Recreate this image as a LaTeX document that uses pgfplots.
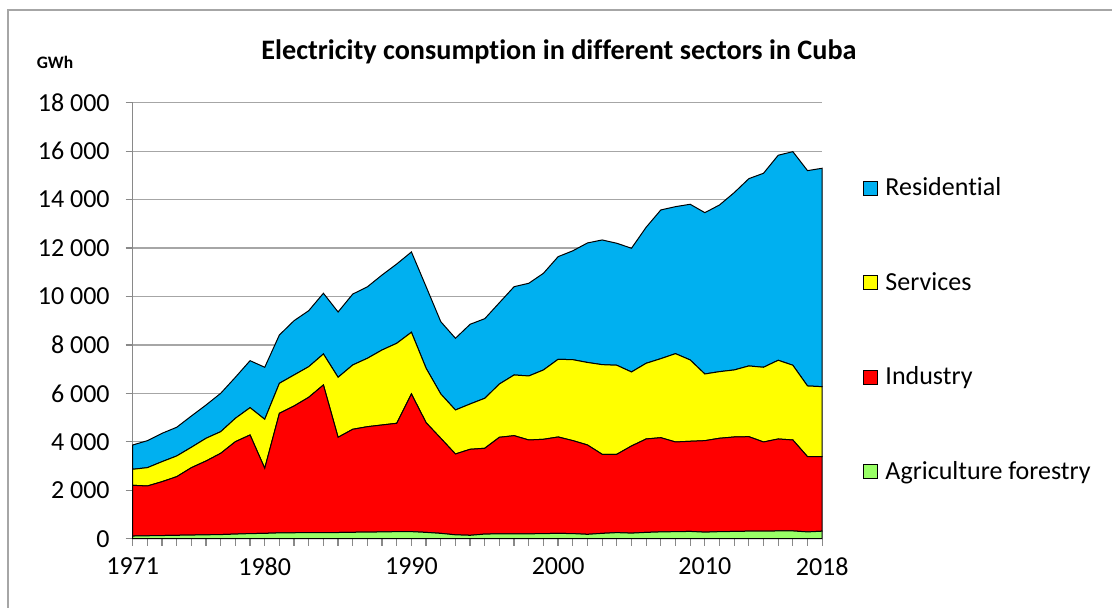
\documentclass[border=0pt]{standalone}
\usepackage{pgfplots}
\usepackage{pgfplotstable}
\usepackage{fontspec}
\setmainfont{Carlito}[Ligatures=NoCommon]
\pgfplotsset{compat=1.18}
\definecolor{rescol}{HTML}{00B0F0}
\definecolor{sercol}{HTML}{FFFF00}
\definecolor{indcol}{HTML}{FF0000}
\definecolor{agcol}{HTML}{99FF66}
\definecolor{gridcol}{HTML}{A6A6A6}
\definecolor{axcol}{HTML}{898989}
\pgfplotstableread{
year ag ind serv res
1971 110 2094 661 1004
1972 120 2056 756 1115
1973 130 2224 826 1171
1974 140 2420 855 1185
1975 150 2782 842 1292
1976 160 3048 938 1374
1977 170 3356 892 1585
1978 190 3815 966 1693
1979 210 4072 1127 1941
1980 220 2687 2023 2147
1981 240 4938 1238 1995
1982 245 5234 1280 2242
1983 250 5588 1264 2312
1984 255 6091 1280 2507
1985 255 3932 2477 2696
1986 265 4252 2655 2928
1987 270 4354 2825 2951
1988 280 4415 3096 3097
1989 290 4475 3303 3274
1990 290 5685 2547 3316
1991 260 4530 2246 3369
1992 220 3926 1829 2985
1993 160 3337 1817 2960
1994 140 3551 1871 3290
1995 190 3543 2064 3287
1996 200 3987 2201 3357
1997 200 4053 2506 3646
1998 200 3875 2643 3827
1999 210 3894 2862 3992
2000 220 3979 3208 4237
2001 210 3840 3340 4495
2002 180 3689 3406 4935
2003 220 3265 3700 5148
2004 250 3235 3675 5037
2005 230 3598 3055 5108
2006 260 3857 3125 5616
2007 280 3890 3262 6140
2008 290 3703 3646 6069
2009 300 3722 3357 6428
2010 270 3777 2753 6660
2011 290 3856 2750 6882
2012 300 3899 2767 7320
2013 310 3902 2919 7733
2014 310 3683 3084 8010
2015 320 3797 3249 8464
2016 320 3755 3085 8819
2017 280 3106 2919 8890
2018 310 3076 2890 9018
}\data
\begin{document}
\begin{tikzpicture}
\useasboundingbox (0,0) rectangle (556pt,304pt);
\draw[gridcol, line width=0.8pt] (4pt,-10pt) -- (4pt,299pt) -- (570pt,299pt);
\node[font=\bfseries\fontsize{14.1}{16}\selectfont] at (279.5pt,278pt) {Electricity consumption in different sectors in Cuba};
\node[font=\bfseries\fontsize{8.75}{10}\selectfont] at (27.5pt,273pt) {GWh};
\begin{axis}[
  at={(66.35pt,34.65pt)}, anchor=south west,
  width=344.75pt, height=218pt, scale only axis,
  xmin=1971, xmax=2018, ymin=0, ymax=18000,
  stack plots=y,
  scaled y ticks=false,
  axis x line*=bottom, axis y line*=left,
  axis line style={axcol, line width=0.6pt},
  x axis line style={-}, y axis line style={-},
  ytick={0,2000,...,18000},
  yticklabels={0,2 000,4 000,6 000,8 000,10 000,12 000,14 000,16 000,18 000},
  xtick={1971,1980,1990,2000,2010,2018},
  xticklabels={1971,1980,1990,2000,2010,2018},
  minor xtick={1971,...,2018},
  tick align=outside,
  major tick length=3.5pt, minor tick length=3.5pt,
  tick style={axcol, line width=0.6pt},
  ymajorgrids, major grid style={gridcol, line width=0.6pt},
  ticklabel style={font=\fontsize{13}{15}\selectfont},
  yticklabel style={xshift=-4.5pt},
  xticklabel style={yshift=-2.5pt},
  clip=false,
  reverse legend,
  legend cell align=left,
  legend style={draw=none, fill=none, at={(1.058,0.4787)}, anchor=west,
    font=\fontsize{13}{15}\selectfont, row sep=32.8pt, inner sep=0pt},
  legend image code/.code={\draw[#1,draw=black,line width=0.4pt] (0pt,-3.5pt) rectangle (7pt,3.5pt); \path (9pt,0pt);},
]
\addplot[fill=agcol, draw=black, line width=0.5pt] table[x=year,y=ag] {\data} \closedcycle;
\addlegendentry{Agriculture forestry}
\addplot[fill=indcol, draw=black, line width=0.5pt] table[x=year,y=ind] {\data} \closedcycle;
\addlegendentry{Industry}
\addplot[fill=sercol, draw=black, line width=0.5pt] table[x=year,y=serv] {\data} \closedcycle;
\addlegendentry{Services}
\addplot[fill=rescol, draw=black, line width=0.5pt] table[x=year,y=res] {\data} \closedcycle;
\addlegendentry{Residential}
\end{axis}
\end{tikzpicture}
\end{document}
